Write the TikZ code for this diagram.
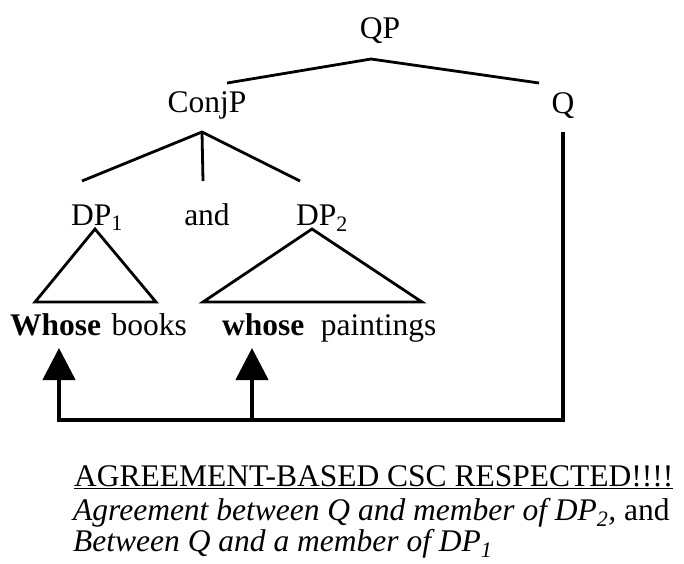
\documentclass[tikz,border=0pt]{standalone}
\usepackage{fontspec}
\setmainfont{Liberation Serif}
\usetikzlibrary{arrows.meta, positioning}

\tikzset{
  word/.style={inner sep=0pt, anchor=base},
  branch/.style={line width=2.8pt, line join=miter},
  agree/.style={line width=4.5pt, line join=miter},
  agreetip/.style={agree, -{Triangle[width=32pt,length=32pt]}},
}

\begin{document}
\begin{tikzpicture}[x=1pt, y=-1pt, font=\fontsize{31.5}{38}\selectfont]
\useasboundingbox (0,0) rectangle (684,563);

% category labels
\node[word] (QP) at (380,38) {QP};
\node[word] (ConjP) at (207,112) {ConjP};
\node[word] (Q) at (563,113) {Q};
\node[word] (DP1) at (97,225) {DP\textsubscript{1}};
\node[word] (and) at (207,225) {and};
\node[word] (DP2) at (322,225) {DP\textsubscript{2}};

% the two conjuncts
\node[word, anchor=base west] (whoseA) at (10,335) {\textbf{Whose}};
\node[word, base right=10pt of whoseA] (books) {books};
\node[word, anchor=base west] (whoseB) at (222,335) {\textbf{whose}};
\node[word, base right=16pt of whoseB] (paintings) {paintings};

% branches
\draw[branch] ([shift={(20,-29)}]ConjP.base) -- ([shift={(-9,21)}]QP.base) -- ([shift={(-24,-30)}]Q.base);
\draw[branch] ([shift={(-15,-44)}]DP1.base) -- ([shift={(-5,20)}]ConjP.base) -- ([shift={(-22,-44)}]DP2.base);
\draw[branch] ([shift={(-5,20)}]ConjP.base) -- ([shift={(-4,-44)}]and.base);

% triangles over the DPs
\draw[branch] ([shift={(-2,4)}]DP1.base) -- ([shift={(-62,77)}]DP1.base) -- ([shift={(59,77)}]DP1.base) -- cycle;
\draw[branch] ([shift={(-10,4)}]DP2.base) -- ([shift={(-119,77)}]DP2.base) -- ([shift={(100,77)}]DP2.base) -- cycle;

% agreement from Q into both conjuncts
\coordinate (hookA) at (59,420);
\coordinate (hookB) at (252,420);
\draw[agreetip, shorten >=13pt] ([shift={(0,19)}]Q.base) |- (hookA) -- (hookA |- whoseA.base);
\draw[agreetip, shorten >=13pt] (hookB) -- (hookB |- whoseB.base);

% verdict
\node[word, anchor=base west] (verdict) at (74,486) {\underline{AGREEMENT-BASED CSC RESPECTED!!!!}};
\node[word, anchor=base west] (glossA) at (73,520) {\textit{Agreement between Q and member of DP\textsubscript{2},} and};
\node[word, anchor=base west] (glossB) at (73,551) {\textit{Between Q and a member of DP\textsubscript{1}}};

\end{tikzpicture}
\end{document}
